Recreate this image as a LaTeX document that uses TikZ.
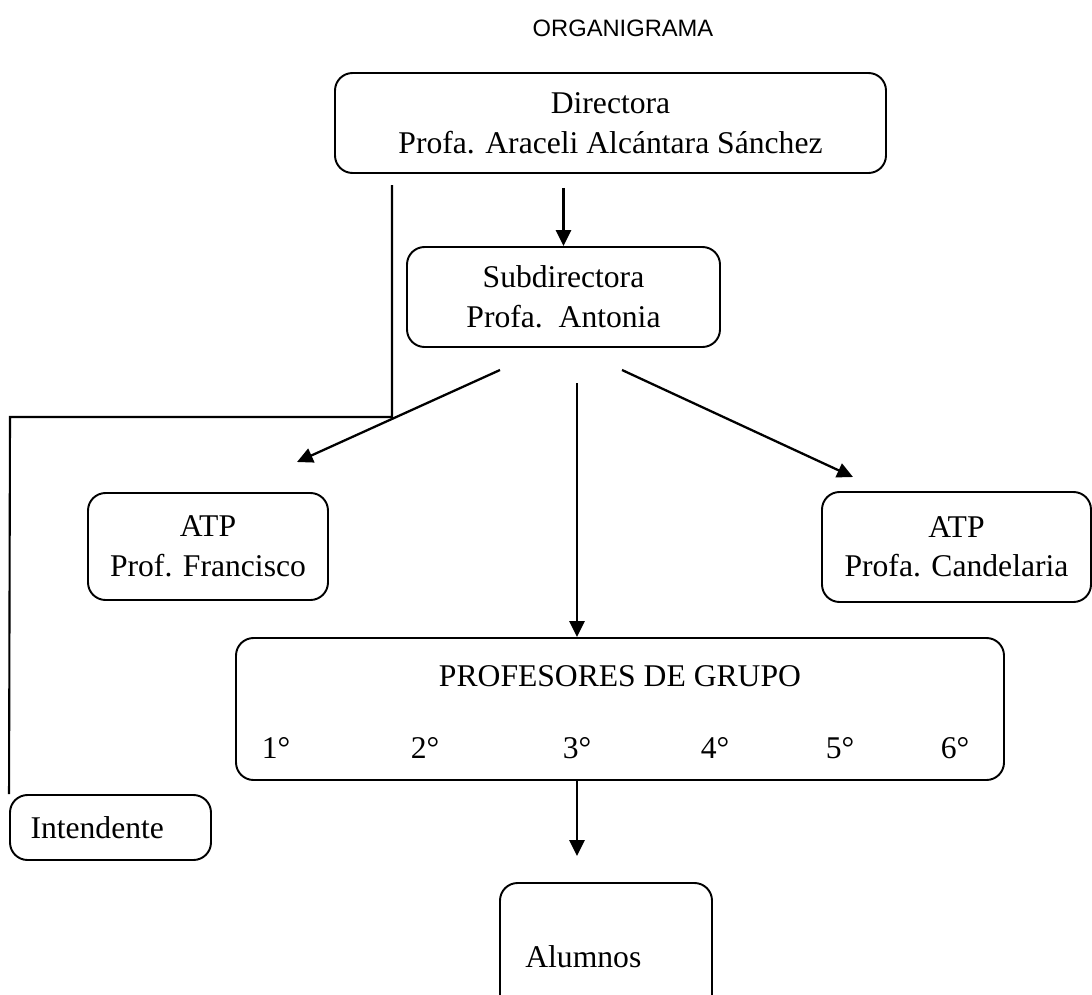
\documentclass[tikz,border=0pt]{standalone}
\usepackage{fontspec}
\setmainfont{Liberation Serif}
\newfontfamily\titlefont{Liberation Sans}
\usetikzlibrary{arrows.meta, positioning, calc}

\tikzset{
    box/.style={draw, rounded corners=10pt, line width=1.1pt, align=center, font=\fontsize{18}{22.5}\selectfont},
    arr/.style={line width=1.3pt, -{Triangle[length=9pt, width=8.5pt]}},
    link/.style={line width=1.2pt},
    lbl/.style={font=\fontsize{18}{22.5}\selectfont, inner sep=0pt}
}

\begin{document}
\begin{tikzpicture}[x=0.02cm, y=-0.02cm]
    \useasboundingbox (0,0) rectangle (1092,994);

    \node[font=\titlefont\fontsize{13.5}{15}\selectfont] (title) at (623,28) {ORGANIGRAMA};

    \node[box, minimum width=551*0.02cm, minimum height=100*0.02cm] (dir) at (610.5,123) {Directora\\Profa. Araceli Alcántara Sánchez};
    \node[box, minimum width=313*0.02cm, minimum height=100*0.02cm] (sub) at (563.5,297) {Subdirectora\\Profa.\ \ Antonia};
    \node[box, minimum width=240*0.02cm, minimum height=107*0.02cm] (atpf) at (208,546.5) {ATP\\Prof. Francisco};
    \node[box, minimum width=269*0.02cm, minimum height=110*0.02cm] (atpc) at (956.5,547) {ATP\\Profa. Candelaria};
    \node[box, minimum width=768*0.02cm, minimum height=142*0.02cm] (prof) at (620,709) {};
    \node[box, minimum width=201*0.02cm, minimum height=65*0.02cm, text width=160*0.02cm, align=left] (int) at (110.5,827.5) {Intendente};
    \node[box, minimum width=212*0.02cm, minimum height=250*0.02cm] (alu) at (606,1008) {};

    % textos dentro de las cajas
    \node[lbl] (proft) at (620,676) {PROFESORES DE GRUPO};
    \foreach \g/\x in {1/276, 2/425, 3/577, 4/715, 5/840, 6/955}
        \node[lbl] (g\g) at (\x,748) {\g°};
    \node[lbl, anchor=west] (alut) at (525,957) {Alumnos};

    % puntos libres
    \coordinate (l0) at (392,185);
    \coordinate (l1) at (392,417);
    \coordinate (l2) at (10,417);
    \coordinate (s1) at (500,370);
    \coordinate (s2) at (577,383);
    \coordinate (s3) at (622,370);
    \coordinate (e1) at (297,462);
    \coordinate (e3) at (853,477);

    \draw[arr] ($(sub.north |- dir.south)+(0,14)$) -- (sub.north);
    \draw[link] (l0) -- (l1) -- (l2) -- (int.north west |- int.north);
    \draw[arr] (s1) -- (e1);
    \draw[arr] (s2) -- (s2 |- prof.north);
    \draw[arr] (s3) -- (e3);
    \draw[arr] (prof.south -| g3) -- ($(alu.north -| g3)+(0,-26)$);
\end{tikzpicture}
\end{document}
